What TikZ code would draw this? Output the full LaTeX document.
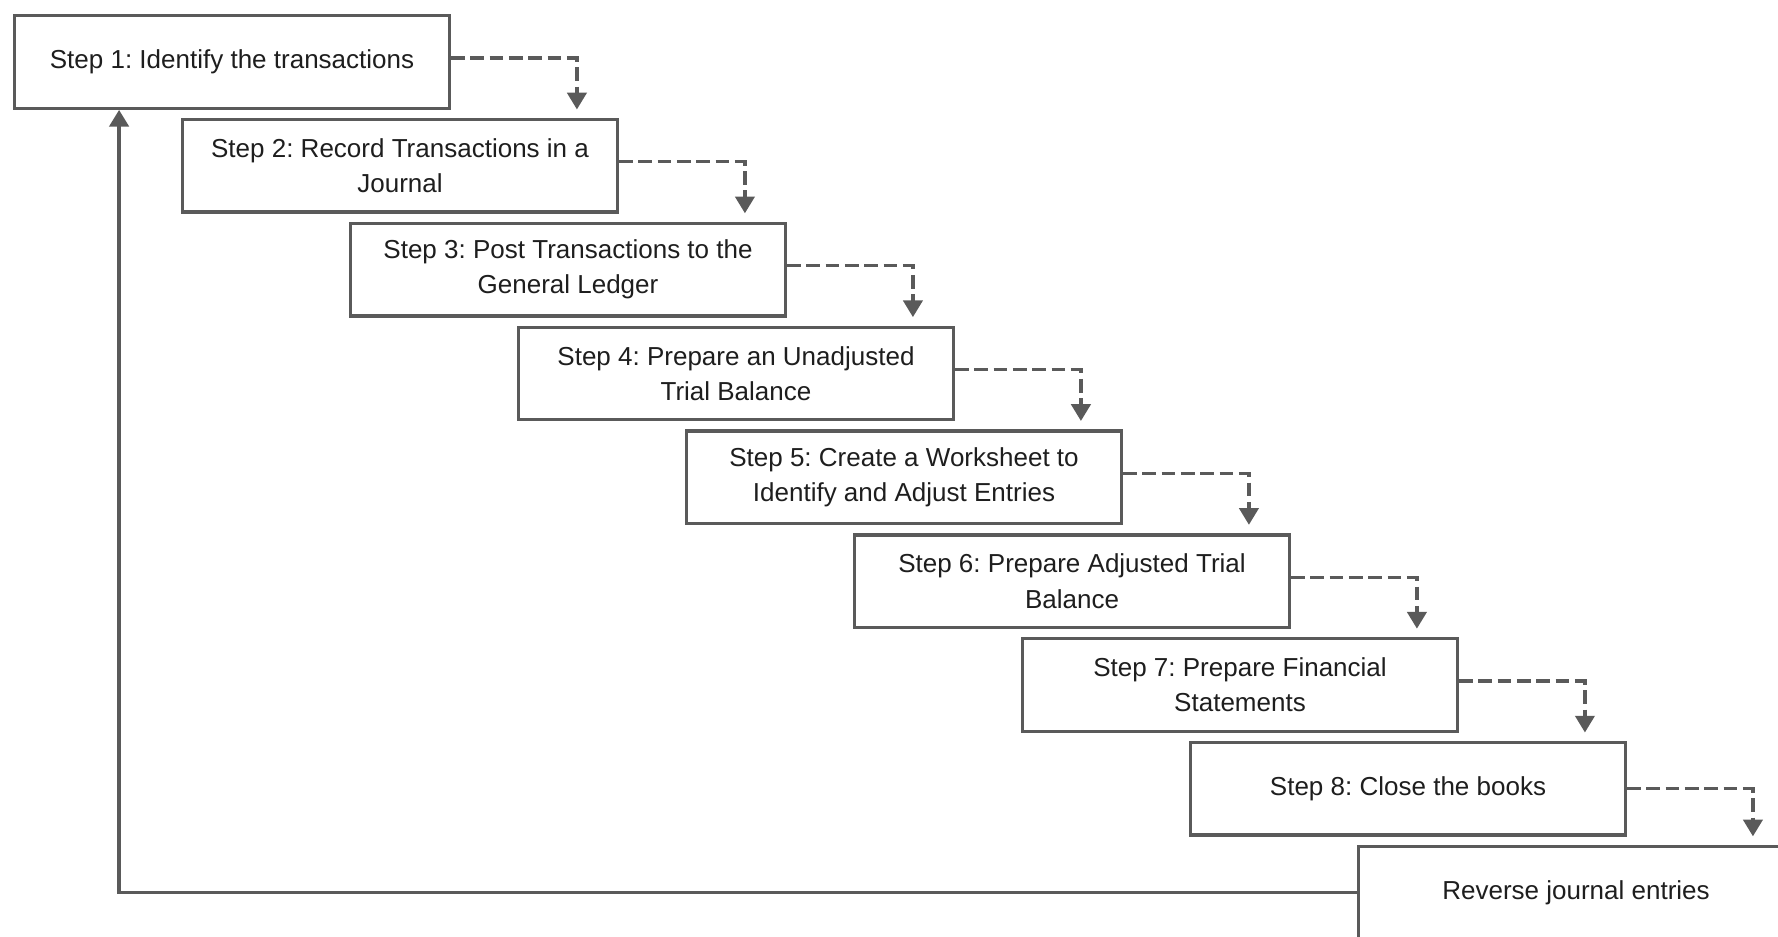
\documentclass[tikz,border=0pt]{standalone}
\usepackage{fontspec}
\setmainfont{Liberation Sans}
\usepackage{tikz}
\usetikzlibrary{positioning, arrows.meta}
\definecolor{lineGray}{HTML}{5a5a5a}
\definecolor{txtDark}{HTML}{1e1e1e}
\frenchspacing

\begin{document}
\begin{tikzpicture}[stepbox/.style={draw=lineGray, line width=1.9pt, fill=white, minimum width=8.69cm, minimum height=1.85cm, inner sep=0pt, align=center, text=txtDark, font=\fontsize{14.8}{20}\selectfont},flow/.style={draw=lineGray, line width=1.8pt, dash pattern=on 7.8pt off 3.2pt, -{Triangle[length=9.5pt, width=11pt]}, shorten >=0.17cm},back/.style={draw=lineGray, line width=2pt, -{Triangle[length=9.5pt, width=11pt]}}]
\clip (0,0) rectangle (35.56,-18.74);
\node[stepbox] (ident) at (4.64,-1.24) {Step 1: Identify the transactions};
\node[stepbox, below right=0.16cm and 3.36cm of ident.south west] (record) {Step 2: Record Transactions in a\\Journal};
\node[stepbox, below right=0.16cm and 3.36cm of record.south west] (post) {Step 3: Post Transactions to the\\General Ledger};
\node[stepbox, below right=0.16cm and 3.36cm of post.south west] (unadj) {Step 4: Prepare an Unadjusted\\Trial Balance};
\node[stepbox, below right=0.16cm and 3.36cm of unadj.south west] (wsheet) {Step 5: Create a Worksheet to\\Identify and Adjust Entries};
\node[stepbox, below right=0.16cm and 3.36cm of wsheet.south west] (adj) {Step 6: Prepare Adjusted Trial\\Balance};
\node[stepbox, below right=0.16cm and 3.36cm of adj.south west] (fin) {Step 7: Prepare Financial\\Statements};
\node[stepbox, below right=0.16cm and 3.36cm of fin.south west] (close) {Step 8: Close the books};
\node[stepbox, below right=0.16cm and 3.36cm of close.south west] (rev) {Reverse journal entries};
\draw[flow] ([yshift=0.08cm]ident.east) -| ([xshift=-0.84cm]record.north east);
\draw[flow] ([yshift=0.08cm]record.east) -| ([xshift=-0.84cm]post.north east);
\draw[flow] ([yshift=0.08cm]post.east) -| ([xshift=-0.84cm]unadj.north east);
\draw[flow] ([yshift=0.08cm]unadj.east) -| ([xshift=-0.84cm]wsheet.north east);
\draw[flow] ([yshift=0.08cm]wsheet.east) -| ([xshift=-0.84cm]adj.north east);
\draw[flow] ([yshift=0.08cm]adj.east) -| ([xshift=-0.84cm]fin.north east);
\draw[flow] ([yshift=0.08cm]fin.east) -| ([xshift=-0.84cm]close.north east);
\draw[flow] (close.east) -| ([xshift=-0.84cm]rev.north east);
\draw[back] (rev.west) -| ([xshift=2.12cm]ident.south west);
\end{tikzpicture}
\end{document}
